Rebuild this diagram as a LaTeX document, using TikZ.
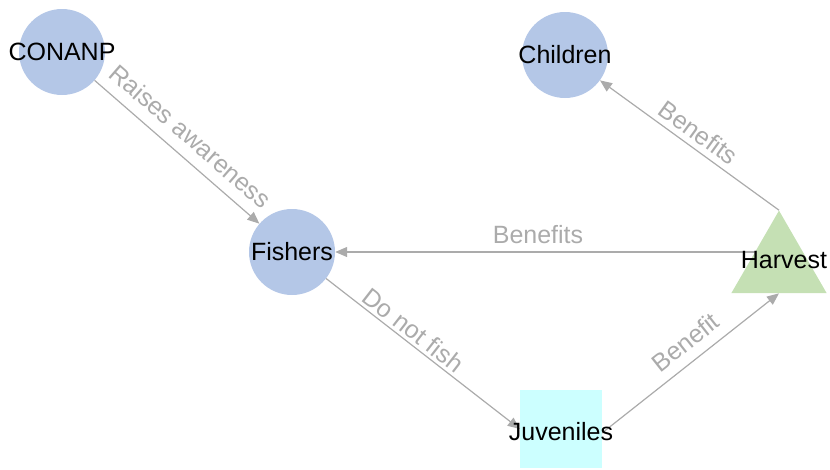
\documentclass[tikz,border=0pt]{standalone}
\usepackage{fontspec}
\setmainfont{Liberation Sans}
\usetikzlibrary{arrows.meta,shapes.geometric}
\pgfdeclarelayer{bg}
\pgfsetlayers{bg,main}
\definecolor{circfill}{HTML}{B4C7E7}
\definecolor{trifill}{HTML}{C5E0B4}
\definecolor{sqfill}{HTML}{CCFFFF}
\definecolor{edgegray}{HTML}{ABABAB}
\definecolor{labgray}{HTML}{ABABAB}
\begin{document}
\begin{tikzpicture}[x=1pt,y=-1pt,
  circnode/.style={circle, fill=circfill, minimum size=86pt, inner sep=0pt},
  nodetext/.style={font=\fontsize{25}{29}\selectfont, text=black, inner sep=0pt},
  edge/.style={draw=edgegray, line width=1.2pt, -{Triangle[length=12pt,width=10pt]}},
  lab/.style={font=\fontsize{25}{29}\selectfont, text=labgray, inner sep=0pt}]
\useasboundingbox (0,0) rectangle (830,469);
\node[circnode, label={[nodetext]center:CONANP}] (conanp) at (62,52) {};
\node[circnode, label={[nodetext]center:Children}] (children) at (565,55) {};
\node[circnode, label={[nodetext]center:Fishers}] (fishers) at (292,252) {};
\node[regular polygon, regular polygon sides=3, minimum size=110pt, inner sep=0pt, fill=trifill,
      label={[nodetext, xshift=5pt, yshift=5.6pt]center:Harvest}] (harvest) at (779,265.6) {};
\node[rectangle, fill=sqfill, minimum width=82pt, minimum height=78pt, inner sep=0pt,
      label={[nodetext, yshift=-3pt]center:Juveniles}] (juveniles) at (561,429) {};
\coordinate (hc) at (779,252);
\coordinate (jout) at (602,433);
\begin{pgfonlayer}{bg}
\draw[edge] (conanp) -- node[lab, sloped, above=11pt] {Raises awareness} (fishers);
\draw[edge] (harvest.corner 1) -- node[lab, sloped, above=6pt] {Benefits} (children);
\draw[edge] (hc) -- node[lab, pos=0.543, above=8pt] {Benefits} (fishers);
\draw[edge] (fishers) -- node[lab, sloped, pos=0.41, above=3pt] {Do not fish} (juveniles.west);
\draw[edge] (jout) -- node[lab, sloped, pos=0.54, above=10pt] {Benefit} (harvest.side 2);
\end{pgfonlayer}
\end{tikzpicture}
\end{document}
